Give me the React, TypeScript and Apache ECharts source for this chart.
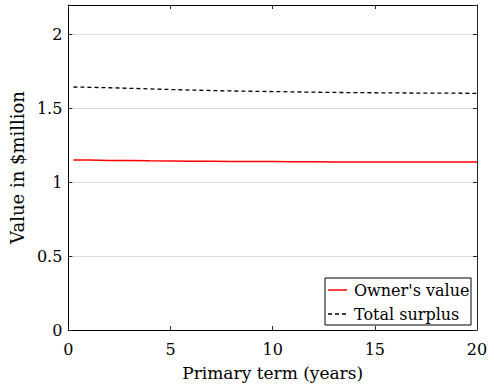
import React, { useEffect, useRef } from "react";
import * as echarts from "echarts";

// Primary term in years, and the two value curves in $ million
const termYears = [0.25, 1, 2, 3, 4, 5, 6, 7, 8, 9, 10, 11, 12, 13, 14, 15, 16, 17, 18, 19, 20];
const ownersValue = [1.151, 1.150, 1.148, 1.147, 1.145, 1.144, 1.143, 1.142, 1.141, 1.140, 1.140, 1.139, 1.139, 1.138, 1.138, 1.137, 1.137, 1.137, 1.137, 1.137, 1.137];
const totalSurplus = [1.645, 1.643, 1.640, 1.636, 1.632, 1.628, 1.624, 1.621, 1.618, 1.616, 1.614, 1.612, 1.610, 1.608, 1.607, 1.606, 1.605, 1.604, 1.603, 1.603, 1.602];

const seriesNames = ["Owner's value", "Total surplus"];
const FONT = "DejaVu Serif";

const RED = "#ff0000";
const DASH = [4, 3];

export default function App() {
  const ref = useRef<HTMLDivElement>(null);

  useEffect(() => {
    if (!ref.current) return;
    const chart = echarts.init(ref.current, undefined, { renderer: "svg" });
    const pairs = (ys: number[]) => termYears.map((x, i) => [x, ys[i]]);

    const tickStyle = { show: true, inside: true, length: 4, lineStyle: { color: "#262626", width: 1 } };

    // boxed legend in the lower-right corner of the plot
    const lx = 325, ly = 278, lw = 146, lh = 47;
    const legendText = (y: number, text: string) => ({
      type: "text",
      x: lx + 29,
      y,
      style: { text, fontFamily: FONT, fontSize: 16, fill: "#000", verticalAlign: "middle", align: "left" },
    });

    chart.setOption({
      animation: false,
      backgroundColor: "#fff",
      textStyle: { fontFamily: FONT },
      grid: { left: 65, right: 17, top: 5, bottom: 59 },
      graphic: [
        {
          type: "group",
          z: 100,
          children: [
            { type: "rect", shape: { x: lx, y: ly, width: lw, height: lh }, style: { fill: "#fff", stroke: "#000", lineWidth: 1 } },
            { type: "line", shape: { x1: lx + 3, y1: ly + 12, x2: lx + 22, y2: ly + 12 }, style: { stroke: RED, lineWidth: 1.5 } },
            { type: "line", shape: { x1: lx + 3, y1: ly + 36, x2: lx + 22, y2: ly + 36 }, style: { stroke: "#000", lineWidth: 1.3, lineDash: DASH } },
            legendText(ly + 12, seriesNames[0]),
            legendText(ly + 36, seriesNames[1]),
          ],
        },
      ],
      xAxis: [
        {
          type: "value",
          min: 0,
          max: 20,
          interval: 5,
          name: "Primary term (years)",
          nameLocation: "middle",
          nameGap: 34,
          nameTextStyle: { fontFamily: FONT, fontSize: 17, color: "#000" },
          axisLine: { show: true, onZero: false, lineStyle: { color: "#000", width: 1 } },
          axisTick: tickStyle,
          axisLabel: { fontFamily: FONT, fontSize: 16, color: "#000", margin: 11 },
          splitLine: { show: false },
        },
        {
          type: "value",
          position: "top",
          min: 0,
          max: 20,
          interval: 5,
          axisLine: { show: true, onZero: false, lineStyle: { color: "#000", width: 1 } },
          axisTick: tickStyle,
          axisLabel: { show: false },
          splitLine: { show: false },
        },
      ],
      yAxis: [
        {
          type: "value",
          min: 0,
          max: 2.2,
          interval: 0.5,
          name: "Value in $million",
          nameLocation: "middle",
          nameGap: 32,
          nameTextStyle: { fontFamily: FONT, fontSize: 18, color: "#000" },
          axisLine: { show: true, onZero: false, lineStyle: { color: "#000", width: 1 } },
          axisTick: tickStyle,
          axisLabel: { fontFamily: FONT, fontSize: 16, color: "#000", margin: 6, showMaxLabel: false },
          splitLine: { show: true, lineStyle: { color: "#dcdcdc", width: 1 } },
        },
        {
          type: "value",
          position: "right",
          min: 0,
          max: 2.2,
          interval: 0.5,
          axisLine: { show: true, onZero: false, lineStyle: { color: "#262626", width: 1 } },
          axisTick: tickStyle,
          axisLabel: { show: false },
          splitLine: { show: false },
        },
      ],
      series: [
        {
          name: seriesNames[0],
          type: "line",
          data: pairs(ownersValue),
          showSymbol: false,
          symbol: "none",
          lineStyle: { color: RED, width: 1.5 },
          itemStyle: { color: RED },
          z: 3,
        },
        {
          name: seriesNames[1],
          type: "line",
          data: pairs(totalSurplus),
          showSymbol: false,
          symbol: "none",
          lineStyle: { color: "#000", width: 1.3, type: DASH },
          itemStyle: { color: "#000" },
          z: 3,
        },
      ],
    });

    return () => chart.dispose();
  }, []);

  return <div ref={ref} style={{ position: "fixed", left: 0, top: 0, width: 494, height: 389 }} />;
}
